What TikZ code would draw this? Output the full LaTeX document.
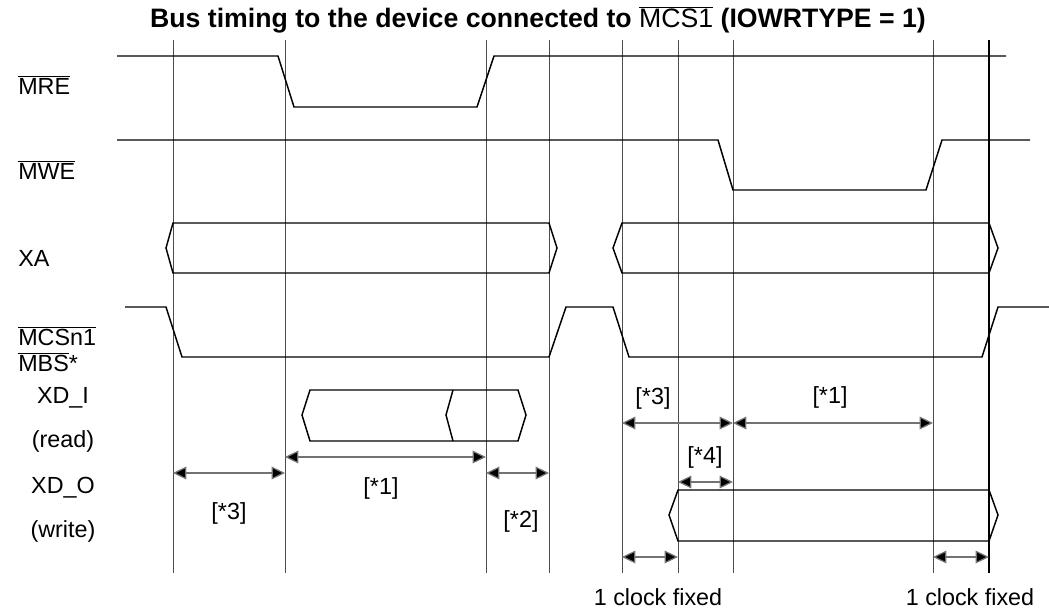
\documentclass[tikz,border=0pt]{standalone}
\usepackage{fontspec}
\setmainfont{Liberation Sans}
\usetikzlibrary{arrows.meta}
\tikzset{
  sig/.style={line width=1.1pt, line join=miter},
  grid/.style={line width=0.6pt, draw=black!70},
  dim/.style={line width=0.9pt, draw=black!55, {Triangle[length=10pt,width=9.5pt,fill=black]}-{Triangle[length=10pt,width=9.5pt,fill=black]}},
  lbl/.style={inner sep=0pt, font=\fontsize{17.5pt}{19pt}\selectfont},
  dlbl/.style={inner sep=0pt, font=\fontsize{17.5pt}{19pt}\selectfont}
}
\begin{document}
\begin{tikzpicture}[x=0.75pt,y=0.75pt,yscale=-1,xscale=1]
\useasboundingbox (0,0) rectangle (1049,610);

% Title
\node (title) at (538,20) {\fontsize{20pt}{22pt}\selectfont\bfseries Bus timing to the device connected to $\overline{\mbox{\mdseries MCS1}}$ (IOWRTYPE = 1)};

% grid lines
\foreach \gx in {173,285,486,549,622,678,733,933} {
  \draw[grid] (\gx,40) -- (\gx,573);
}
\draw[line width=1.2pt] (989,40) -- (989,573);

% MRE
\draw[sig] (117,56) -- (278,56) -- (294,107) -- (477,107) -- (494,56) -- (1006,56);
% MWE
\draw[sig] (117,140) -- (718,140) -- (733,190) -- (926,190) -- (942,140) -- (1030,140);
% XA
\draw[sig] (166,248) -- (173,223) -- (549,223) -- (557,248) -- (549,273) -- (173,273) -- cycle;
\draw[sig] (613,248) -- (622,223) -- (989,223) -- (998,248) -- (989,273) -- (622,273) -- cycle;
% MCSn1
\draw[sig] (125,307) -- (166,307) -- (182,357) -- (549,357) -- (566,307) -- (613,307) -- (629,357) -- (982,357) -- (998,307) -- (1049,307);
% XD_I
\draw[sig] (302,415) -- (310,390) -- (518,390) -- (526,415) -- (518,441) -- (310,441) -- cycle;
\draw[sig] (453,390) -- (446,415) -- (453,441);
% XD_O
\draw[sig] (669,515) -- (678,490) -- (989,490) -- (998,515) -- (989,541) -- (678,541) -- cycle;

% signal names
\node[lbl, anchor=west] (mre) at (18,85) {$\overline{\mbox{MRE}}$};
\node[lbl, anchor=west] (mwe) at (18,170) {$\overline{\mbox{MWE}}$};
\node[lbl, anchor=west] (xa) at (18,258) {XA};
\node[lbl, anchor=west] (mcs) at (18,336) {$\overline{\mbox{MCSn1}}$};
\node[lbl, anchor=west] (mbs) at (18,362) {$\overline{\mbox{MBS}}$*};
\node[lbl] (xdi) at (63,398) {XD\_I};
\node[lbl] (rd) at (63,441) {(read)};
\node[lbl] (xdo) at (63,488) {XD\_O};
\node[lbl] (wr) at (63,531) {(write)};

% read cycle intervals
\coordinate (r0) at (173,473);
\coordinate (r1) at (285,473);
\coordinate (r2) at (285,457);
\coordinate (r3) at (486,457);
\coordinate (r4) at (486,473);
\coordinate (r5) at (549,473);
\draw[dim] (r0) -- (r1);
\draw[dim] (r2) -- (r3);
\draw[dim] (r4) -- (r5);
\node[dlbl] (t3a) at (229,513) {[*3]};
\node[dlbl] (t1a) at (381,488) {[*1]};
\node[dlbl] (t2a) at (521,521) {[*2]};

% write cycle intervals
\coordinate (w0) at (622,423);
\coordinate (w1) at (733,423);
\coordinate (w2) at (933,423);
\coordinate (w3) at (678,482);
\coordinate (w4) at (733,482);
\draw[dim] (w0) -- (w1);
\draw[dim] (w1) -- (w2);
\draw[dim] (w3) -- (w4);
\node[dlbl] (t3b) at (653,398) {[*3]};
\node[dlbl] (t1b) at (830,397) {[*1]};
\node[dlbl] (t4b) at (705,457) {[*4]};

% fixed clocks
\coordinate (f0) at (622,557);
\coordinate (f1) at (678,557);
\coordinate (f2) at (933,557);
\coordinate (f3) at (989,557);
\draw[dim] (f0) -- (f1);
\draw[dim] (f2) -- (f3);
\node[dlbl] (fx1) at (658,597) {1 clock fixed};
\node[dlbl] (fx2) at (970,597) {1 clock fixed};

\end{tikzpicture}
\end{document}
